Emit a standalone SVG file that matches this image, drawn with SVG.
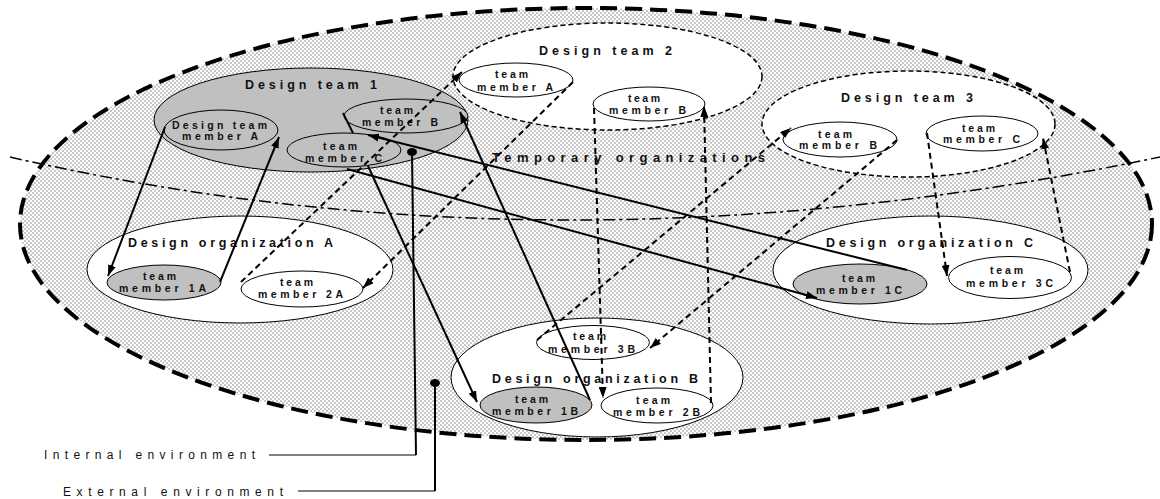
<svg xmlns="http://www.w3.org/2000/svg" width="1160" height="499" viewBox="0 0 1160 499">
<defs>
<pattern id="dots" width="4" height="4" patternUnits="userSpaceOnUse">
<rect width="4" height="4" fill="#fff"/>
<circle cx="1" cy="1" r="0.75" fill="#777"/>
<circle cx="3" cy="3" r="0.75" fill="#777"/>
</pattern>
<marker id="ah" markerWidth="12" markerHeight="8" refX="11" refY="4" orient="auto" markerUnits="userSpaceOnUse"><path d="M0,0 L11,4 L0,8 z" fill="#000"/></marker>
</defs>
<style>
text{font-family:"Liberation Sans",Arial,sans-serif;fill:#111}
.b{font-weight:bold}
.t13{font-size:13px}
.t12{font-size:12.5px}
.t10{font-size:10.5px}
.env{font-size:12px;font-weight:normal}
.n{stroke:#000;stroke-width:1}
.w{fill:#fff}
.g{fill:#c0c0c0}
.dsh{stroke-dasharray:5 3;stroke-width:1.5}
.outer{fill:url(#dots);stroke:#000;stroke-width:4;stroke-dasharray:17 8}
.dot{fill:#000}
.sol{fill:none;stroke:#000;stroke-width:2}
.dl{fill:none;stroke:#000;stroke-width:2;stroke-dasharray:6 4}
.arr{marker-end:url(#ah)}
</style>
<rect width="1160" height="499" fill="#fff"/>

<g id="internal-environment-area">
<ellipse cx="586" cy="224" rx="566" ry="216" class="outer"/>
</g>
<path id="temporary-boundary" d="M10,157 Q560,283 1160,157" fill="none" stroke="#000" stroke-width="1.5" stroke-dasharray="12 4 3 4"/>

<g id="design-team-1">
<ellipse cx="311" cy="120" rx="157" ry="52" class="n g"/>
<text class="b t12" x="245" y="89" textLength="132" lengthAdjust="spacing">Design team 1</text>
</g>
<g id="dt1-member-a">
<ellipse cx="221" cy="130" rx="57" ry="20" class="n g"/>
<text class="b t10" x="172" y="129" textLength="95" lengthAdjust="spacing">Design team</text>
<text class="b t10" x="182" y="140" textLength="76" lengthAdjust="spacing">member A</text>
</g>
<g id="dt1-member-b">
<ellipse cx="406" cy="116" rx="62" ry="17" class="n g"/>
<text class="b t10" x="380" y="114" textLength="33" lengthAdjust="spacing">team</text>
<text class="b t10" x="362" y="126" textLength="76" lengthAdjust="spacing">member B</text>
</g>
<g id="dt1-member-c">
<ellipse cx="344" cy="150" rx="57" ry="17" class="n g"/>
<text class="b t10" x="323" y="150" textLength="34" lengthAdjust="spacing">team</text>
<text class="b t10" x="305" y="162" textLength="77" lengthAdjust="spacing">member C</text>
</g>

<g id="design-team-2">
<ellipse cx="607.5" cy="76.5" rx="154.5" ry="53.5" class="n w dsh"/>
<text class="b t12" x="539" y="55" textLength="133" lengthAdjust="spacing">Design team 2</text>
</g>
<g id="dt2-member-a">
<ellipse cx="516" cy="80" rx="57" ry="17" class="n w"/>
<text class="b t10" x="495" y="78" textLength="33" lengthAdjust="spacing">team</text>
<text class="b t10" x="477" y="91" textLength="76" lengthAdjust="spacing">member A</text>
</g>
<g id="dt2-member-b">
<ellipse cx="649" cy="104" rx="56" ry="17" class="n w"/>
<text class="b t10" x="628" y="102" textLength="32" lengthAdjust="spacing">team</text>
<text class="b t10" x="609" y="114" textLength="77" lengthAdjust="spacing">member B</text>
</g>

<g id="design-team-3">
<ellipse cx="908.5" cy="124" rx="146.5" ry="53" class="n w dsh"/>
<text class="b t12" x="841" y="102" textLength="132" lengthAdjust="spacing">Design team 3</text>
</g>
<g id="dt3-member-b">
<ellipse cx="840" cy="139.5" rx="57" ry="17.5" class="n w"/>
<text class="b t10" x="818" y="138" textLength="34" lengthAdjust="spacing">team</text>
<text class="b t10" x="799" y="149" textLength="78" lengthAdjust="spacing">member B</text>
</g>
<g id="dt3-member-c">
<ellipse cx="982" cy="133.5" rx="56" ry="17.5" class="n w"/>
<text class="b t10" x="962" y="132" textLength="33" lengthAdjust="spacing">team</text>
<text class="b t10" x="943" y="143" textLength="77" lengthAdjust="spacing">member C</text>
</g>

<g id="temporary-organizations-label">
<text class="b t13" x="492" y="162" textLength="273" lengthAdjust="spacing">Temporary organizations</text>
</g>

<g id="design-organization-a">
<ellipse cx="240" cy="269.5" rx="153" ry="53.5" class="n w"/>
<text class="b t12" x="128" y="247" textLength="205" lengthAdjust="spacing">Design organization A</text>
</g>
<g id="member-1a">
<ellipse cx="164" cy="282.5" rx="57" ry="17.5" class="n g"/>
<text class="b t10" x="143" y="280" textLength="33" lengthAdjust="spacing">team</text>
<text class="b t10" x="119" y="292" textLength="87" lengthAdjust="spacing">member 1A</text>
</g>
<g id="member-2a">
<ellipse cx="302" cy="289" rx="61" ry="18" class="n w"/>
<text class="b t10" x="280" y="286" textLength="33" lengthAdjust="spacing">team</text>
<text class="b t10" x="258" y="298" textLength="85" lengthAdjust="spacing">member 2A</text>
</g>

<g id="design-organization-c">
<ellipse cx="930.5" cy="270" rx="157.5" ry="54" class="n w"/>
<text class="b t12" x="826" y="247" textLength="207" lengthAdjust="spacing">Design organization C</text>
</g>
<g id="member-1c">
<ellipse cx="860" cy="284" rx="67" ry="20" class="n g"/>
<text class="b t10" x="842" y="282" textLength="33" lengthAdjust="spacing">team</text>
<text class="b t10" x="816" y="294" textLength="86" lengthAdjust="spacing">member 1C</text>
</g>
<g id="member-3c">
<ellipse cx="1010" cy="277.5" rx="61.5" ry="21" class="n w"/>
<text class="b t10" x="990" y="274" textLength="33" lengthAdjust="spacing">team</text>
<text class="b t10" x="966" y="287" textLength="87" lengthAdjust="spacing">member 3C</text>
</g>

<g id="design-organization-b">
<ellipse cx="597" cy="377.5" rx="146" ry="59.5" class="n w"/>
<text class="b t12" x="492" y="383" textLength="206" lengthAdjust="spacing">Design organization B</text>
</g>
<g id="member-3b">
<ellipse cx="593" cy="342.5" rx="56.5" ry="17" class="n w"/>
<text class="b t10" x="573" y="340" textLength="33" lengthAdjust="spacing">team</text>
<text class="b t10" x="548" y="353" textLength="87" lengthAdjust="spacing">member 3B</text>
</g>
<g id="member-1b">
<ellipse cx="536" cy="405" rx="56" ry="18" class="n g"/>
<text class="b t10" x="515" y="403" textLength="33" lengthAdjust="spacing">team</text>
<text class="b t10" x="492" y="415" textLength="86" lengthAdjust="spacing">member 1B</text>
</g>
<g id="member-2b">
<ellipse cx="657" cy="405.5" rx="56" ry="17.5" class="n w"/>
<text class="b t10" x="636" y="404" textLength="34" lengthAdjust="spacing">team</text>
<text class="b t10" x="613" y="416" textLength="87" lengthAdjust="spacing">member 2B</text>
</g>

<g id="connectors">
<path class="sol arr" d="M165,127 L108,276"/>
<path class="sol arr" d="M220,282 L279,137"/>
<path class="sol" d="M343,113 L353,133"/>
<path class="sol arr" d="M368,166 L477,402"/>
<path class="sol arr" d="M590,400 L460,112"/>
<path class="sol arr" d="M907,270 L368,135"/>
<path class="sol arr" d="M347,169 L817,298"/>
<path class="dl arr" d="M241,282 L462,72"/>
<path class="dl arr" d="M573,82 L363,288"/>
<path class="dl arr" d="M594,108 L603,398"/>
<path class="dl arr" d="M711,403 L704,106"/>
<path class="dl arr" d="M537,340 L791,128"/>
<path class="dl arr" d="M897,140 L650,348"/>
<path class="dl arr" d="M927,133 L947,276"/>
<path class="dl arr" d="M1070,272 L1043,138"/>
</g>

<g id="internal-environment">
<ellipse cx="412" cy="152" rx="5" ry="4" class="dot"/>
<path d="M412,152 L416,455" fill="none" stroke="#000" stroke-width="2"/>
<path d="M269,455 L416,455" fill="none" stroke="#000" stroke-width="1"/>
<text class="env" x="44" y="459" textLength="211" lengthAdjust="spacing">Internal environment</text>
</g>
<g id="external-environment">
<ellipse cx="435" cy="383" rx="5" ry="4" class="dot"/>
<path d="M435,383 L435,491" fill="none" stroke="#000" stroke-width="2"/>
<path d="M298,491 L435,491" fill="none" stroke="#000" stroke-width="1"/>
<text class="env" x="63" y="496" textLength="220" lengthAdjust="spacing">External environment</text>
</g>
</svg>
